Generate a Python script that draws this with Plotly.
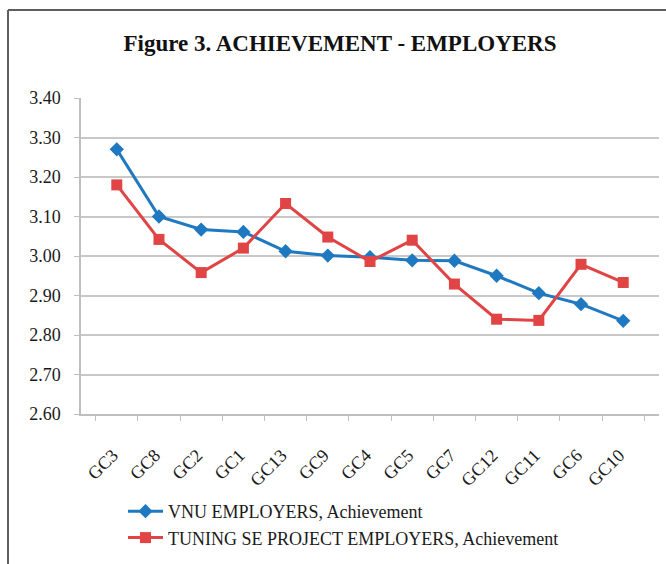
import plotly.graph_objects as go

# Generic competences, ordered as on the horizontal axis
competences = ["GC3", "GC8", "GC2", "GC1", "GC13", "GC9", "GC4",
               "GC5", "GC7", "GC12", "GC11", "GC6", "GC10"]

# Mean achievement scores rated by employers
vnu_employers = [3.27, 3.10, 3.067, 3.061, 3.012, 3.001, 2.997,
                 2.989, 2.988, 2.950, 2.906, 2.878, 2.836]
tuning_se_employers = [3.18, 3.042, 2.958, 3.020, 3.133, 3.048, 2.986,
                       3.040, 2.929, 2.840, 2.837, 2.979, 2.933]

y_ticks = [2.60, 2.70, 2.80, 2.90, 3.00, 3.10, 3.20, 3.30, 3.40]

W, H = 666, 564
ML, MR, MT, MB = 81, 7, 98, 150
PW, PH = W - ML - MR, H - MT - MB


def px_x(x):
    return (x - ML) / PW


def px_y(y):
    return (H - MB - y) / PH


BLUE = "#1F79C0"
RED = "#E04444"
FONT = "Liberation Serif"

fig = go.Figure()
fig.add_trace(go.Scatter(
    x=competences, y=vnu_employers, mode="lines+markers",
    name="VNU EMPLOYERS, Achievement",
    line=dict(color=BLUE, width=3),
    marker=dict(symbol="diamond", size=11, color=BLUE),
))
fig.add_trace(go.Scatter(
    x=competences, y=tuning_se_employers, mode="lines+markers",
    name="TUNING SE PROJECT EMPLOYERS, Achievement",
    line=dict(color=RED, width=3),
    marker=dict(symbol="square", size=11, color=RED),
))

# Outer frame of the figure (left and top edges)
frame = dict(color="#5E5E5E", width=2)
fig.add_shape(type="line", xref="paper", yref="paper",
              x0=px_x(8), x1=px_x(8), y0=px_y(10), y1=px_y(H + 2), line=frame)
fig.add_shape(type="line", xref="paper", yref="paper",
              x0=px_x(8), x1=px_x(W + 2), y0=px_y(10), y1=px_y(10), line=frame)

fig.update_layout(
    width=W, height=H,
    margin=dict(l=ML, r=MR, t=MT, b=MB),
    paper_bgcolor="white", plot_bgcolor="white",
    title=dict(text="<b>Figure 3. ACHIEVEMENT - EMPLOYERS</b>",
               font=dict(family=FONT, size=23, color="#111111"),
               x=340 / W, xanchor="center", y=1 - 43 / H, yanchor="middle"),
    showlegend=True,
    legend=dict(x=px_x(123), y=px_y(493), xanchor="left", yanchor="top",
                font=dict(family=FONT, size=18, color="#1A1A1A"),
                bgcolor="rgba(0,0,0,0)", tracegroupgap=0, itemwidth=35),
    xaxis=dict(
        type="category", tickangle=-45, tickson="boundaries",
        ticks="outside", ticklen=5, tickcolor="#BFBFBF",
        showline=True, linecolor="#BFBFBF", linewidth=1.5,
        showgrid=False, ticklabelstandoff=22, ticklabelshift=-4,
        tickfont=dict(family=FONT, size=18, color="#1A1A1A"),
    ),
    yaxis=dict(
        range=[2.60, 3.40], tickvals=y_ticks,
        ticktext=[f"{v:.2f}" for v in y_ticks],
        ticks="outside", ticklen=5, tickcolor="#BFBFBF",
        showline=True, linecolor="#BFBFBF", linewidth=1.5,
        showgrid=True, gridcolor="#C8C8C8", gridwidth=1.5,
        zeroline=False, ticklabelstandoff=10,
        tickfont=dict(family=FONT, size=18, color="#1A1A1A"),
    ),
)

fig.write_html("out.html")
